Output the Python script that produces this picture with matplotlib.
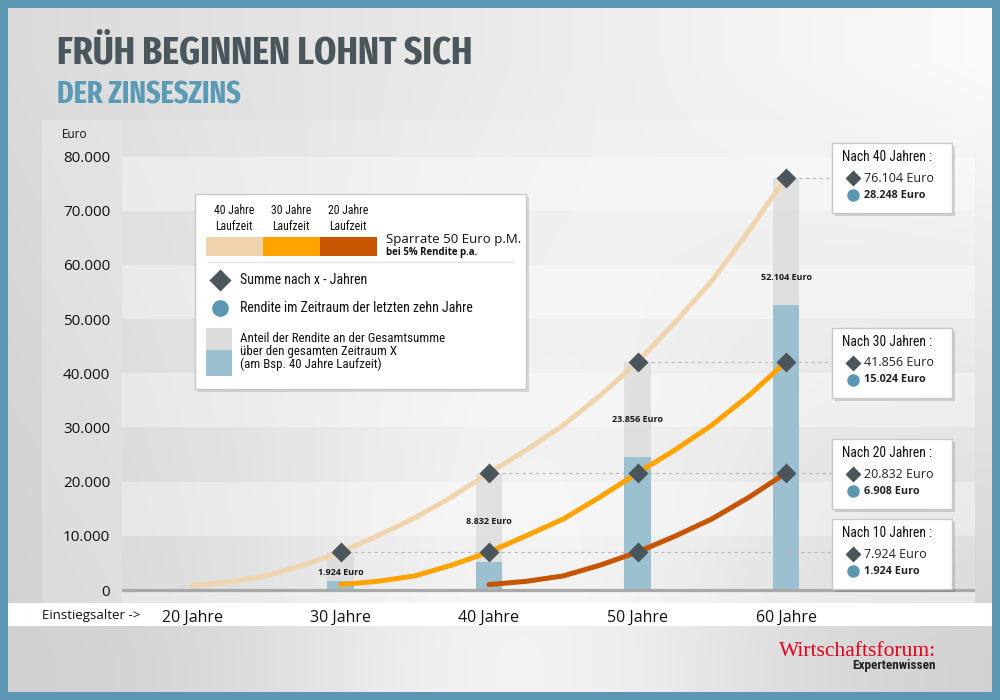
import numpy as np
import matplotlib
matplotlib.use('Agg')
import matplotlib.pyplot as plt
from matplotlib.patches import Rectangle
from matplotlib import font_manager as fm

# ---------------- data ----------------
ages = [20, 30, 40, 50, 60]
age_labels = ['20 Jahre', '30 Jahre', '40 Jahre', '50 Jahre', '60 Jahre']
y_ticks = [0, 10000, 20000, 30000, 40000, 50000, 60000, 70000, 80000]
y_tick_labels = ['0', '10.000', '20.000', '30.000', '40.000', '50.000', '60.000', '70.000', '80.000']

total_bar = [700, 7000, 21600, 42100, 76100]      # grey bars (Gesamtsumme)
interest_bar = [0, 1700, 5200, 24600, 52600]      # blue bars (Anteil Rendite)
bar_labels = ['', '1.924 Euro', '8.832 Euro', '23.856 Euro', '52.104 Euro']

curve40_ages = [20, 22.5, 25, 27.5, 30, 32.5, 35, 37.5, 40, 42.5, 45, 47.5, 50, 52.5, 55, 57.5, 60]
curve40_vals = [800, 1500, 2600, 4600, 7000, 10000, 13300, 17200, 21600, 25800, 30400, 35900,
                42100, 49300, 57000, 66300, 76100]
curve30_ages = [30, 32.5, 35, 37.5, 40, 42.5, 45, 47.5, 50, 52.5, 55, 57.5, 60]
curve30_vals = [1000, 1600, 2600, 4600, 7000, 10000, 13100, 17200, 21600, 25800, 30400, 35900, 42100]
curve20_ages = [40, 42.5, 45, 47.5, 50, 52.5, 55, 57.5, 60]
curve20_vals = [1000, 1600, 2600, 4600, 7000, 9900, 13100, 17100, 21600]

box_titles = ['Nach 40 Jahren :', 'Nach 30 Jahren :', 'Nach 20 Jahren :', 'Nach 10 Jahren :']
box_sums = ['76.104 Euro', '41.856 Euro', '20.832 Euro', '7.924 Euro']
box_rendite = ['28.248 Euro', '15.024 Euro', '6.908 Euro', '1.924 Euro']

legend_lauf = ['40 Jahre\nLaufzeit', '30 Jahre\nLaufzeit', '20 Jahre\nLaufzeit']
legend_share = ['Anteil der Rendite an der Gesamtsumme', 'über den gesamten Zeitraum X',
                '(am Bsp. 40 Jahre Laufzeit)']

# ---------------- styles / layout ----------------
C_BEIGE = '#f0d4ae'
C_ORANGE = '#fea300'
C_DARK = '#c75400'
C_DIAMOND = '#4a565c'
C_CIRCLE = '#5b96b2'
C_BLUEBAR = '#9bc0cf'
C_GREYBAR = '#d9d9d9'
C_BORDER = '#5b97b3'

SANS = ['Open Sans', 'DejaVu Sans']


def _is_bold(f):
    w = f.weight
    if isinstance(w, str):
        return w.lower() in ('bold', 'semibold', 'demibold', 'demi', 'heavy', 'black', 'extra bold')
    return w >= 600


def _wnum(f):
    w = f.weight
    if isinstance(w, str):
        return 700 if _is_bold(f) else 400
    return w


def narrow_font(bold, extra=False):
    ents = []
    for f in fm.fontManager.ttflist:
        nm = f.name.lower()
        fn = f.fname.lower()
        if f.style != 'normal' or 'mono' in nm or 'cjk' in nm or 'serif' in nm:
            continue
        cond = (f.stretch in ('condensed', 'semi-condensed', 'extra-condensed', 'ultra-condensed')
                or 'narrow' in nm or 'condensed' in nm or 'condensed' in fn or 'narrow' in fn)
        if not cond or _is_bold(f) != bold:
            continue
        ents.append(f)
    if not ents:
        return fm.FontProperties(family=['Roboto', 'DejaVu Sans'],
                                 weight='bold' if bold else 'normal')
    pref = ['liberation sans narrow', 'roboto', 'noto sans', 'open sans', 'lato', 'dejavu sans']

    def key(f):
        nm = f.name.lower()
        fn = f.fname.lower()
        base = next((i for i, p in enumerate(pref) if nm.startswith(p)), len(pref))
        isx = ('extra' in fn or 'ultra' in fn or 'extra' in nm)
        semi = ('semi' in fn or 'semi' in nm)
        return (0 if isx == extra else 1, 1 if semi else 0, base,
                abs(_wnum(f) - (700 if bold else 400)))
    ents.sort(key=key)
    return fm.FontProperties(fname=ents[0].fname)


FP_TITLE = narrow_font(True, extra=True)
FP_NB = narrow_font(True)
FP_NR = narrow_font(False)


def fp(base, size):
    p = base.copy()
    p.set_size(size)
    return p


fig = plt.figure(figsize=(10, 7), dpi=100)

# background (pixel coordinates)
bg = fig.add_axes([0, 0, 1, 1])
bg.set_xlim(0, 1000)
bg.set_ylim(700, 0)
bg.axis('off')
X, Y = np.meshgrid(np.linspace(0, 1000, 250), np.linspace(0, 700, 175))
top = 0.855 + 0.13 * (X / 1000)
bottom = 0.815 + 0.135 * np.exp(-((X - 520) / 280) ** 2)
t = np.clip((Y - 60) / 600, 0, 1)
L = top * (1 - t) + bottom * t
bg.imshow(np.dstack([L, L, L]), extent=[0, 1000, 700, 0], aspect='auto',
          interpolation='bilinear', zorder=0)
bg.add_patch(Rectangle((42, 120), 80, 483, fc='white', alpha=0.22, lw=0, zorder=1))
bg.add_patch(Rectangle((8, 603), 984, 23, fc='white', lw=0, zorder=1))

# ---------------- main chart ----------------
ax = fig.add_axes([122 / 1000, (700 - 603) / 700, (975 - 122) / 1000, (603 - 120) / 700])
ax.patch.set_alpha(0)
k = 80000 / (590 - 156.5)
ax.set_ylim(-(603 - 590) * k, (590 - 120) * k)
ax.set_xlim(20 + (122 - 192) / 14.85, 20 + (975 - 192) / 14.85)

edges = [-10000] + y_ticks + [100000]
for i in range(len(edges) - 1):
    light = (i % 2 == 0)
    ax.axhspan(edges[i], edges[i + 1], fc='white', alpha=0.42 if light else 0.14, lw=0, zorder=0)

ax.axhline(0, color='#a9a9a9', lw=2.3, zorder=3)

bw = 26.5 / 14.85
ax.bar(ages, total_bar, width=bw, color=C_GREYBAR, alpha=0.75, lw=0, zorder=2)
ax.bar(ages, interest_bar, width=bw, color=C_BLUEBAR, lw=0, zorder=2.1)
bar_label_pos = [None, 3300, 12700, 31400, 57700]
for a, lab, pos in zip(ages, bar_labels, bar_label_pos):
    if lab:
        ax.text(a, pos, lab, ha='center', va='center', fontsize=6.5, weight='bold',
                color='#1a1a1a', family=SANS, zorder=5)

# dashed guide lines from the diamonds to the boxes
box_left_x = 20 + (832 - 192) / 14.85
for a, v in zip(curve40_ages[4::4], curve40_vals[4::4]):
    ax.plot([a + 0.9, box_left_x], [v, v], color='#b8b8b8', lw=0.8,
            ls=(0, (3, 3)), zorder=2.5)

for xs, vs, c in [(curve40_ages, curve40_vals, C_BEIGE),
                  (curve30_ages, curve30_vals, C_ORANGE),
                  (curve20_ages, curve20_vals, C_DARK)]:
    ax.plot(xs, vs, color=c, lw=3.6, solid_capstyle='round', solid_joinstyle='round', zorder=4)
    ax.plot(xs[4::4], vs[4::4], ls='none', marker='D', ms=9.8, color=C_DIAMOND,
            mec='none', zorder=6)

ax.set_yticks(y_ticks, y_tick_labels)
ax.set_xticks(ages, age_labels)
ax.tick_params(axis='y', length=0, pad=8.5, labelsize=11, labelcolor='#111')
ax.tick_params(axis='x', length=0, pad=5, labelsize=11.5, labelcolor='#111')
for lab in ax.get_xticklabels() + ax.get_yticklabels():
    lab.set_family(SANS)
for s in ax.spines.values():
    s.set_visible(False)

# ---------------- overlay (pixel coordinates) ----------------
ov = fig.add_axes([0, 0, 1, 1])
ov.set_xlim(0, 1000)
ov.set_ylim(700, 0)
ov.axis('off')
ov.patch.set_alpha(0)

for r in [(0, 0, 1000, 8), (0, 692, 1000, 8), (0, 0, 8, 700), (992, 0, 8, 700)]:
    ov.add_patch(Rectangle((r[0], r[1]), r[2], r[3], fc=C_BORDER, lw=0, zorder=20))

ov.text(57, 63, 'FRÜH BEGINNEN LOHNT SICH', fontproperties=fp(FP_TITLE, 28),
        color='#4a565c', va='baseline', ha='left')
ov.text(57, 104, 'DER ZINSESZINS', fontproperties=fp(FP_TITLE, 22),
        color='#5b9ab5', va='baseline', ha='left')

ov.text(62, 135, 'Euro', family=SANS, fontsize=8.5, color='#111', va='center', ha='left')
ov.text(42, 615, 'Einstiegsalter ->', family=SANS, fontsize=9.5, color='#111', va='center', ha='left')

# legend box
ov.add_patch(Rectangle((198, 197), 331, 195, fc='black', alpha=0.12, lw=0, zorder=7))
ov.add_patch(Rectangle((195, 194), 331, 195, fc='white', ec='#c9c9c9', lw=1, zorder=8))
seg_x = [206, 263, 320]
for sx, c, lab in zip(seg_x, [C_BEIGE, C_ORANGE, C_DARK], legend_lauf):
    ov.add_patch(Rectangle((sx, 237), 57, 19, fc=c, lw=0, zorder=9))
    ov.text(sx + 28, 218, lab, fontproperties=fp(FP_NR, 8.5), color='#111', ha='center',
            va='center', linespacing=1.3, zorder=9)
ov.text(386, 239, 'Sparrate 50 Euro p.M.', family=SANS, fontsize=9.5, color='#111',
        va='center', zorder=9)
ov.text(386, 253, 'bei 5% Rendite p.a.', family=SANS, fontsize=7, weight='bold',
        color='#111', va='center', zorder=9)
ov.plot([208, 513], [262, 262], color='#e2e2e2', lw=1, zorder=9)
ov.plot([220], [280], marker='D', ms=11.5, color=C_DIAMOND, mec='none', zorder=9)
ov.text(240, 280, 'Summe nach x - Jahren', fontproperties=fp(FP_NR, 10), color='#111',
        va='center', zorder=9)
ov.plot([220], [308], marker='o', ms=12, color=C_CIRCLE, mec='none', zorder=9)
ov.text(240, 308, 'Rendite im Zeitraum der letzten zehn Jahre', fontproperties=fp(FP_NR, 10),
        color='#111', va='center', zorder=9)
ov.add_patch(Rectangle((206, 328), 26, 22, fc='#dcdcdc', lw=0, zorder=9))
ov.add_patch(Rectangle((206, 350), 26, 26, fc=C_BLUEBAR, lw=0, zorder=9))
for j, line in enumerate(legend_share):
    ov.text(240, 338 + 13 * j, line, fontproperties=fp(FP_NR, 9.3), color='#111',
            va='center', zorder=9)

# right boxes
box_tops = [143, 328, 439, 519]
for tp, ttl, s, r in zip(box_tops, box_titles, box_sums, box_rendite):
    ov.add_patch(Rectangle((835, tp + 3), 120, 70, fc='black', alpha=0.14, lw=0, zorder=7))
    ov.add_patch(Rectangle((832, tp), 120, 70, fc='white', ec='#c9c9c9', lw=1, zorder=8))
    ov.text(842, tp + 14, ttl, fontproperties=fp(FP_NR, 9.8), color='#111', va='center', zorder=9)
    ov.plot([853], [tp + 35], marker='D', ms=8.5, color=C_DIAMOND, mec='none', zorder=9)
    ov.text(864, tp + 35, s, family=SANS, fontsize=9, color='#222', va='center', zorder=9)
    ov.plot([853], [tp + 52], marker='o', ms=9, color=C_CIRCLE, mec='none', zorder=9)
    ov.text(864, tp + 52, r, family=SANS, fontsize=7.8, weight='bold', color='#222',
            va='center', zorder=9)

# logo
ov.text(936, 651, 'Wirtschaftsforum:', family=['Liberation Serif', 'DejaVu Serif'],
        fontsize=15.5, color='#e2001a', ha='right', va='center')
ov.text(936, 666, 'Expertenwissen', fontproperties=fp(FP_NB, 9.5),
        color='#222', ha='right', va='center')

fig.savefig('out.png', dpi=100)
